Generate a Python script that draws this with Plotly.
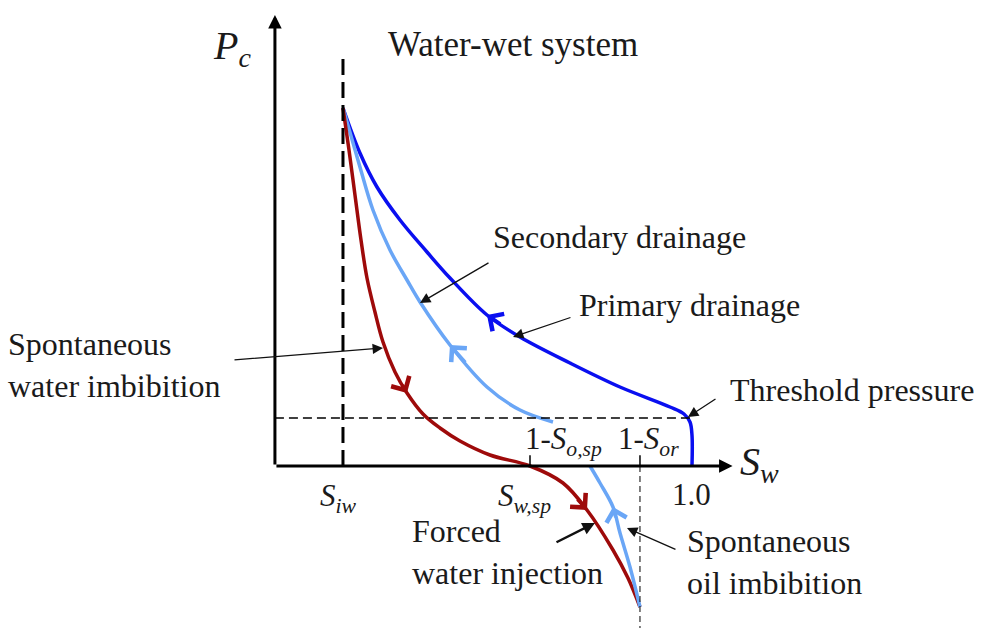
import plotly.graph_objects as go

# ---- data (Sw, Pc) read from the schematic ----
primary_sw = [0.2000, 0.2389, 0.2779, 0.3307, 0.3926, 0.4453, 0.5301, 0.6057, 0.7203, 0.8349, 0.9496, 0.9817, 0.9954, 1.0000, 1.0000]
primary_pc = [8.950, 7.825, 6.975, 6.150, 5.350, 4.700, 3.775, 3.225, 2.575, 1.975, 1.475, 1.300, 1.100, 0.775, 0.000]

secondary_sw = [0.2000, 0.2389, 0.2687, 0.3077, 0.3467, 0.3765, 0.4453, 0.5301, 0.6057, 0.6814]
secondary_pc = [8.950, 7.475, 6.400, 5.400, 4.650, 4.100, 3.025, 1.975, 1.400, 1.100]

water_imb_sw = [0.2000, 0.2138, 0.2275, 0.2413, 0.2550, 0.2733, 0.2917, 0.3192, 0.3467, 0.3834, 0.4223, 0.4682, 0.5370, 0.6287, 0.7043, 0.7593, 0.8189, 0.8533, 0.8808]
water_imb_pc = [8.950, 7.900, 6.775, 5.650, 4.700, 3.850, 3.100, 2.350, 1.825, 1.300, 0.950, 0.625, 0.275, 0.000, -0.425, -1.100, -2.100, -2.800, -3.525]

oil_imb_sw = [0.8808, 0.8579, 0.8350, 0.8189, 0.7891, 0.7662]
oil_imb_pc = [-3.525, -2.525, -1.675, -1.025, -0.425, 0.000]

S_IW = 0.2
S_W_SP = 0.6287
ONE_MINUS_S_OR = 0.8808
P_THRESHOLD = 1.2
AXIS_SW0 = 0.044
AXIS_SW_END = 1.093
AXIS_PC_END = 11.275

DARK_BLUE = "#0a0ff0"
LIGHT_BLUE = "#6aa6f6"
DARK_RED = "#9e0a0a"
FONT = "Liberation Serif"

fig = go.Figure()

def curve(x, y, color):
    fig.add_trace(go.Scatter(x=x, y=y, mode="lines",
                             line=dict(color=color, width=3.5, shape="spline", smoothing=1.0),
                             hoverinfo="skip", showlegend=False))

curve(primary_sw, primary_pc, DARK_BLUE)
curve(secondary_sw, secondary_pc, LIGHT_BLUE)
curve(water_imb_sw, water_imb_pc, DARK_RED)
curve(oil_imb_sw, oil_imb_pc, LIGHT_BLUE)

# dashed guide lines
fig.add_shape(type="line", x0=S_IW, x1=S_IW, y0=0, y1=10.35,
              line=dict(color="black", width=3, dash="16px,7px"))
fig.add_shape(type="line", x0=AXIS_SW0, x1=1.0, y0=P_THRESHOLD, y1=P_THRESHOLD,
              line=dict(color="black", width=1.5, dash="9px,5px"))
fig.add_shape(type="line", x0=ONE_MINUS_S_OR, x1=ONE_MINUS_S_OR, y0=0, y1=-4.2,
              line=dict(color="black", width=1, dash="6px,4px"))
# ticks
for t in (S_W_SP, ONE_MINUS_S_OR):
    fig.add_shape(type="line", x0=t, x1=t, y0=0, y1=0.27, line=dict(color="black", width=1.5))

ann = []
# axes with arrows
ann.append(dict(x=AXIS_SW0, y=AXIS_PC_END, ax=AXIS_SW0, ay=0, xref="x", yref="y", axref="x", ayref="y",
                showarrow=True, arrowhead=2, arrowwidth=3, arrowsize=0.9, arrowcolor="black", text=""))
ann.append(dict(x=AXIS_SW_END, y=0, ax=AXIS_SW0, ay=0, xref="x", yref="y", axref="x", ayref="y",
                showarrow=True, arrowhead=2, arrowwidth=3, arrowsize=0.9, arrowcolor="black", text=""))

# direction arrows on the curves
def dir_arrow(xs, ys, i, j, color):
    hx, hy = xs[i], ys[i]
    tx = hx + 0.45 * (xs[j] - hx)
    ty = hy + 0.45 * (ys[j] - hy)
    ann.append(dict(x=hx, y=hy, ax=tx, ay=ty, xref="x", yref="y", axref="x", ayref="y",
                    showarrow=True, arrowhead=4, arrowwidth=3.5, arrowsize=1.15, arrowcolor=color, text=""))

dir_arrow(primary_sw, primary_pc, 6, 7, DARK_BLUE)
dir_arrow(secondary_sw, secondary_pc, 6, 7, LIGHT_BLUE)
dir_arrow(water_imb_sw, water_imb_pc, 8, 7, DARK_RED)
dir_arrow(water_imb_sw, water_imb_pc, 15, 14, DARK_RED)
dir_arrow(oil_imb_sw, oil_imb_pc, 3, 2, LIGHT_BLUE)

# pointer arrows
def pointer(tx, ty, hx, hy, w=1.3):
    ann.append(dict(x=hx, y=hy, ax=tx, ay=ty, xref="x", yref="y", axref="x", ayref="y",
                    showarrow=True, arrowhead=2, arrowwidth=w, arrowsize=1.6 if w < 2 else 1.0,
                    arrowcolor="#111", text=""))

pointer(0.5370, 5.100, 0.3765, 4.075)
pointer(0.7249, 3.725, 0.5897, 3.225)
pointer(-0.0521, 2.650, 0.2917, 2.950)
pointer(1.0573, 1.700, 0.9908, 1.225)
pointer(0.6860, -1.925, 0.7777, -1.425, w=2.5)
pointer(0.9656, -2.100, 0.8510, -1.550)

def label(x, y, text, size=32, xanchor="center", align="center"):
    ann.append(dict(x=x, y=y, xref="x", yref="y", text=text, showarrow=False,
                    xanchor=xanchor, yanchor="middle", align=align,
                    font=dict(family=FONT, size=size, color="#1a1a1a")))

label(0.5897, 10.55, "Water-wet system", 35)
label(-0.054, 10.45, "<i>P</i><sub><i>c</i></sub>", 40)
label(0.8349, 5.725, "Secondary drainage", 32)
label(0.9954, 4.025, "Primary drainage", 32)
label(-0.5725, 2.525, "Spontaneous<br>water imbibition", 32, xanchor="left", align="left")
label(1.3668, 1.900, "Threshold pressure", 32)
label(1.1055, 0.05, "<i>S</i><sub><i>w</i></sub>", 40, xanchor="left")
label(1.0, -0.70, "1.0", 31)
label(0.1886, -0.80, "<i>S</i><sub><i>iw</i></sub>", 31)
label(0.6172, -0.80, "<i>S</i><sub><i>w,sp</i></sub>", 31)
label(0.7044, 0.62, "1-<i>S</i><sub><i>o,sp</i></sub>", 31)
label(0.8997, 0.62, "1-<i>S</i><sub><i>or</i></sub>", 31)
label(0.3536, -2.15, "Forced<br>water injection", 32, xanchor="left", align="left")
label(0.9845, -2.40, "Spontaneous<br>oil imbibition", 32, xanchor="left", align="left")

fig.update_layout(
    width=981, height=628,
    margin=dict(l=0, r=0, t=0, b=0),
    paper_bgcolor="white", plot_bgcolor="white",
    xaxis=dict(range=[-0.5862, 1.6625], visible=False, fixedrange=True),
    yaxis=dict(range=[-4.05, 11.65], visible=False, fixedrange=True),
    annotations=ann,
    showlegend=False,
)

fig.write_html("out.html")
